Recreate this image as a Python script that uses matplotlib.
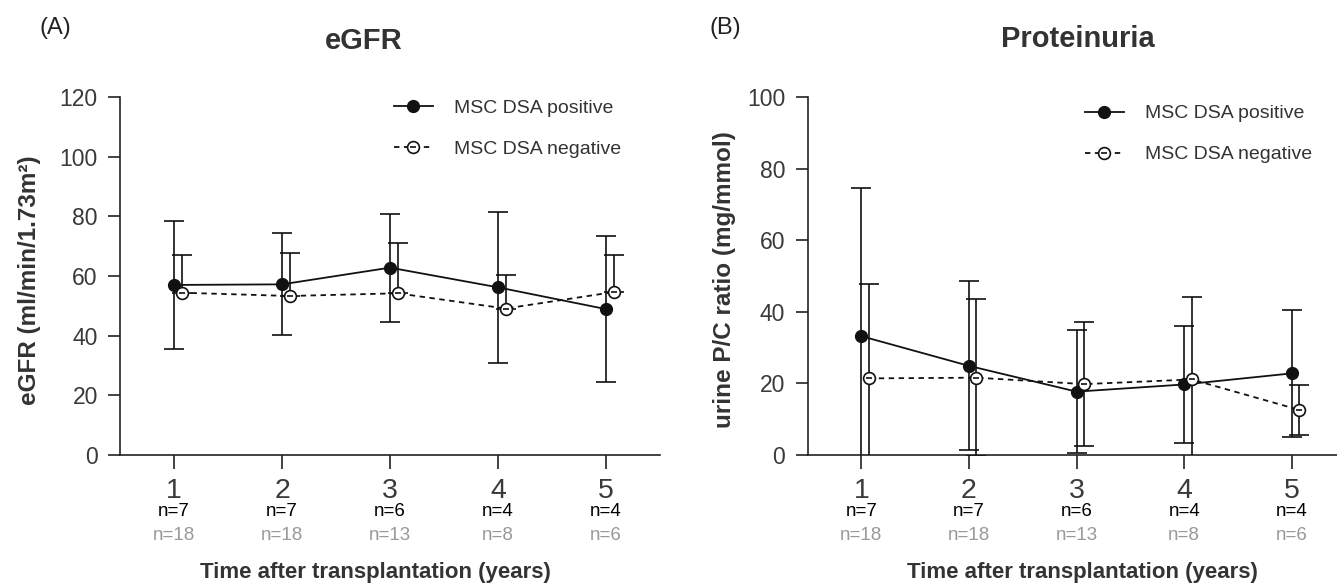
import numpy as np
import matplotlib
matplotlib.use("Agg")
import matplotlib.pyplot as plt
from matplotlib.lines import Line2D

plt.rcParams['font.family'] = ['Liberation Sans', 'DejaVu Sans']

years = [1, 2, 3, 4, 5]
n_pos = ['n=7', 'n=7', 'n=6', 'n=4', 'n=4']
n_neg = ['n=18', 'n=18', 'n=13', 'n=8', 'n=6']

# eGFR (mean, SD)
egfr_pos = [57.0, 57.2, 62.8, 56.2, 48.9]
egfr_pos_sd = [21.4, 17.1, 18.1, 25.4, 24.5]
egfr_neg = [54.4, 53.3, 54.2, 49.1, 54.6]
egfr_neg_sd = [12.6, 14.3, 17.0, 11.2, 12.4]

# proteinuria (mean, SD)
prot_pos = [33.2, 24.9, 17.7, 19.7, 22.8]
prot_pos_sd = [41.4, 23.6, 17.1, 16.4, 17.7]
prot_neg = [21.4, 21.6, 19.8, 21.1, 12.6]
prot_neg_sd = [26.4, 21.9, 17.4, 23.1, 7.0]

W, H = 1337, 583
fig = plt.figure(figsize=(W / 100, H / 100), dpi=100)

tick_col = '#3a3a3a'
lab_col = '#333333'


def px_axes(l, r, b, t):
    return fig.add_axes([l / W, 1 - b / H, (r - l) / W, (b - t) / H])


def draw_panel(ax, pos, pos_sd, neg, neg_sd, neg_upper_only, ymax, yticks, xmax):
    x = np.array(years, dtype=float)
    xn = x + 0.07
    ax.errorbar(x, pos, yerr=pos_sd, color='#111111', lw=1.3, marker='o', ms=8.5,
                mfc='#111111', mec='#111111', capsize=7, elinewidth=1.2,
                capthick=1.2, zorder=3)
    if neg_upper_only:
        err = [np.zeros(len(neg)), neg_sd]
    else:
        err = neg_sd
    eb = ax.errorbar(xn, neg, yerr=err, color='#111111', lw=1.3, marker='o', ms=8.5,
                     mfc='white', mec='#111111', mew=1.2, capsize=7,
                     elinewidth=1.2, capthick=1.2, zorder=4)
    eb[0].set_dashes((3, 2.5))
    ax.plot(xn, neg, ls='none', marker='_', ms=4, mew=1.2, color='#111111', zorder=5)

    ax.set_xlim(0.5, xmax)
    ax.set_ylim(0, ymax)
    ax.set_yticks(yticks)
    ax.set_xticks(years)
    ax.set_xticklabels([])
    for s in ['top', 'right']:
        ax.spines[s].set_visible(False)
    for s in ['left', 'bottom']:
        ax.spines[s].set_linewidth(1.2)
        ax.spines[s].set_color('#222222')
    ax.tick_params(axis='y', length=9, width=1.2, pad=7, labelsize=16.5,
                   labelcolor=tick_col, color='#222222')
    ax.tick_params(axis='x', length=10, width=1.2, color='#222222')

    for xi, a, b in zip(years, n_pos, n_neg):
        ax.annotate(str(xi), xy=(xi, 0), xycoords=('data', 'axes fraction'),
                    xytext=(0, -31), textcoords='offset points', ha='center',
                    va='baseline', fontsize=20.5, color=tick_col)
        ax.annotate(a, xy=(xi, 0), xycoords=('data', 'axes fraction'),
                    xytext=(0, -44), textcoords='offset points', ha='center',
                    va='baseline', fontsize=13.5, color='black')
        ax.annotate(b, xy=(xi, 0), xycoords=('data', 'axes fraction'),
                    xytext=(0, -61), textcoords='offset points', ha='center',
                    va='baseline', fontsize=13.5, color='#999999')

    h_pos = Line2D([], [], color='#111111', lw=1.3, marker='o', ms=8.5)
    h_neg = Line2D([], [], color='#111111', lw=1.3, marker='o', ms=8.5, mfc='white',
                   mew=1.2, dashes=(3, 2.5))
    h_dash = Line2D([], [], ls='none', marker='_', ms=4, mew=1.2, color='#111111')
    return h_pos, (h_neg, h_dash)


axA = px_axes(120, 660, 455, 97)
hp, hn = draw_panel(axA, egfr_pos, egfr_pos_sd, egfr_neg, egfr_neg_sd, True,
                    120, [0, 20, 40, 60, 80, 100, 120], 5.5)
axA.legend([hp, hn], ['MSC DSA positive', 'MSC DSA negative'], loc='upper left',
           bbox_to_anchor=(0.507, 0.993), frameon=False, fontsize=14,
           handlelength=2.0, handletextpad=1.1, labelspacing=1.2,
           borderpad=0, borderaxespad=0, labelcolor=lab_col)

axB = px_axes(807.5, 1337, 455, 97)
hp, hn = draw_panel(axB, prot_pos, prot_pos_sd, prot_neg, prot_neg_sd, False,
                    100, [0, 20, 40, 60, 80, 100], 5.42)
axB.legend([hp, hn], ['MSC DSA positive', 'MSC DSA negative'], loc='upper left',
           bbox_to_anchor=(0.524, 0.978), frameon=False, fontsize=14,
           handlelength=2.0, handletextpad=1.1, labelspacing=1.2,
           borderpad=0, borderaxespad=0, labelcolor=lab_col)

# titles, labels, panel letters
fig.text(364 / W, 1 - 41 / H, 'eGFR', ha='center', va='center', fontsize=21,
         fontweight='bold', color=lab_col)
fig.text(1078 / W, 1 - 39 / H, 'Proteinuria', ha='center', va='center', fontsize=21,
         fontweight='bold', color=lab_col)
fig.text(55 / W, 1 - 28 / H, '(A)', ha='center', va='center', fontsize=17, color='#222222')
fig.text(725 / W, 1 - 28 / H, '(B)', ha='center', va='center', fontsize=17, color='#222222')
fig.text(30 / W, 1 - 280 / H, 'eGFR (ml/min/1.73m²)', ha='center', va='center',
         rotation=90, fontsize=17.5, fontweight='bold', color=lab_col)
fig.text(724 / W, 1 - 280 / H, 'urine P/C ratio (mg/mmol)', ha='center', va='center',
         rotation=90, fontsize=17.5, fontweight='bold', color=lab_col)
fig.text(375 / W, 1 - 578 / H, 'Time after transplantation (years)', ha='center',
         va='baseline', fontsize=16, fontweight='bold', color=lab_col)
fig.text(1082 / W, 1 - 578 / H, 'Time after transplantation (years)', ha='center',
         va='baseline', fontsize=16, fontweight='bold', color=lab_col)

fig.savefig('out.png', dpi=100)
